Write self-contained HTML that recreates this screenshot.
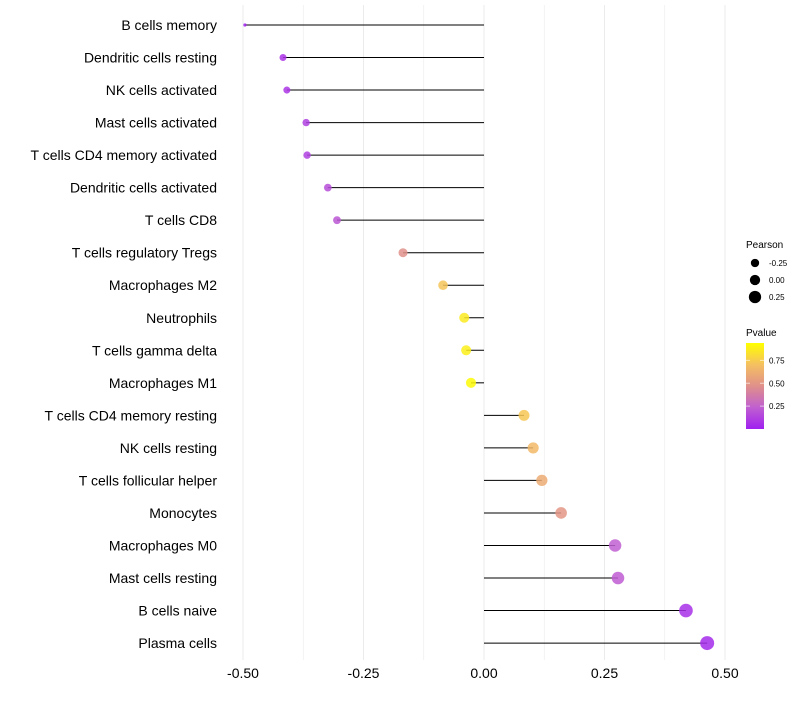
<!DOCTYPE html>
<html><head><meta charset="utf-8"><style>
body{margin:0;background:#fff;font-family:"Liberation Sans",sans-serif;}
</style></head><body>
<svg id="chart" width="800" height="700" xmlns="http://www.w3.org/2000/svg"></svg>
<script>
const categories=["B cells memory","Dendritic cells resting","NK cells activated","Mast cells activated","T cells CD4 memory activated","Dendritic cells activated","T cells CD8","T cells regulatory  Tregs ","Macrophages M2","Neutrophils","T cells gamma delta","Macrophages M1","T cells CD4 memory resting","NK cells resting","T cells follicular helper","Monocytes","Macrophages M0","Mast cells resting","B cells naive","Plasma cells"];
const pearson=[-0.496,-0.417,-0.409,-0.369,-0.367,-0.324,-0.305,-0.168,-0.085,-0.041,-0.037,-0.027,0.083,0.102,0.120,0.160,0.272,0.278,0.419,0.463];
const pvalue=[0.01,0.07,0.08,0.12,0.12,0.17,0.2,0.47,0.72,0.86,0.88,0.92,0.73,0.67,0.6,0.5,0.23,0.22,0.06,0.04];
const xTicks=[-0.5,-0.25,0,0.25,0.5];
const xTickLabels=["-0.50","-0.25","0.00","0.25","0.50"];
const sizeLegend=[-0.25,0,0.25];
const colorLegend=[0.25,0.5,0.75];

const NS="http://www.w3.org/2000/svg";
const svg=document.getElementById('chart');
const x=v=>484+v*482;
const y=i=>25+i*32.53;
const rad=v=>v<-0.417?1.5+2*(v+0.5)/0.083:3.5+3.98*(v+0.417);
const stops=[[0,[160,32,240]],[0.25,[192,96,208]],[0.5,[224,144,138]],[0.75,[245,192,96]],[1,[255,255,0]]];
function col(p){let t=Math.min(1,Math.max(0,p/0.94));for(let k=1;k<stops.length;k++){if(t<=stops[k][0]){const a=stops[k-1],b=stops[k];const f=(t-a[0])/(b[0]-a[0]);const c=a[1].map((v,j)=>Math.round(v+(b[1][j]-v)*f));return `rgb(${c})`;}}return 'rgb(255,255,0)';}
function el(tag,attrs,parent){const e=document.createElementNS(NS,tag);for(const k in attrs)e.setAttribute(k,attrs[k]);(parent||svg).appendChild(e);return e;}

for(let v=-0.5;v<=0.5001;v+=0.125){
  const g=el('line',{x1:x(v),x2:x(v),y1:5,y2:660,stroke:'#ebebeb','stroke-width':Math.abs(v*4-Math.round(v*4))<0.01?1:0.6});
  
  
}
xTicks.forEach((v,i)=>{
  const t=el('text',{x:x(v),y:678,'text-anchor':'middle','font-size':14,fill:'#000'});
  t.textContent=xTickLabels[i];
  
  
});
categories.forEach((c,i)=>{
  const t=el('text',{x:217,y:y(i)+5,'text-anchor':'end','font-size':14,fill:'#000','xml:space':'preserve'});
  t.textContent=c;
  
  
  const l=el('line',{x1:x(0),x2:x(pearson[i]),y1:y(i),y2:y(i),stroke:'#000','stroke-width':1});
  
  
  const p=el('circle',{cx:x(pearson[i]),cy:y(i),r:rad(pearson[i]),fill:col(pvalue[i]),'fill-opacity':0.85});
  
  
});
let t=el('text',{x:746,y:248,'font-size':10});t.textContent='Pearson';


sizeLegend.forEach((v,i)=>{
  const c=el('circle',{cx:755,cy:263+i*17,r:rad(v),fill:'#000'});
  
  
  const tt=el('text',{x:769,y:266+i*17,'font-size':8});tt.textContent=v.toFixed(2);
  
  
});
t=el('text',{x:746,y:336,'font-size':10});t.textContent='Pvalue';


const defs=el('defs',{});const lg=el('linearGradient',{id:'pg',x1:0,y1:1,x2:0,y2:0},defs);
stops.forEach(s=>el('stop',{offset:s[0],'stop-color':`rgb(${s[1]})`},lg));
const bar=el('rect',{x:746,y:343,width:18,height:86,fill:'url(#pg)'});


colorLegend.forEach(v=>{
  const yy=429-(v/0.94)*86;
  el('line',{x1:746,x2:750,y1:yy,y2:yy,stroke:'#fff','stroke-opacity':0.6});
  el('line',{x1:760,x2:764,y1:yy,y2:yy,stroke:'#fff','stroke-opacity':0.6});
  const tt=el('text',{x:769,y:yy+3,'font-size':8});tt.textContent=v.toFixed(2);
  
  
});
</script>
</body></html>
